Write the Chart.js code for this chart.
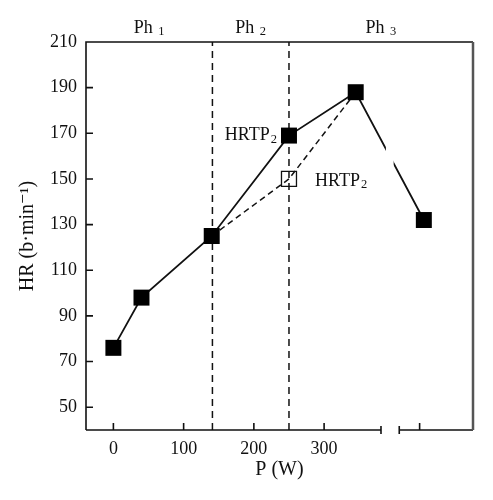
<!DOCTYPE html>
<html lang="en">
<head>
    <meta charset="UTF-8">
    <title>HR vs power</title>
    <script src="https://cdn.jsdelivr.net/npm/chart.js"></script>
    <style>
        body { margin: 0; background: #fff; }
        #wrap { width: 493px; height: 500px; }
    </style>
</head>
<body>

<div id="wrap">
    <canvas id="hrChart" width="493" height="500"></canvas>
</div>

<script>
    // values
    var power = [0, 40, 140, 250, 345, 442];
    var hrMeasured = [76, 98, 125, 169, 188, 132];
    var estPower = [140, 250, 345];
    var hrEstimated = [125, 150, 188];
    var phaseBounds = [141, 250];
    var phaseNames = ['1', '2', '3'];
    var xTicks = [0, 100, 200, 300];
    var yTicks = [50, 70, 90, 110, 130, 150, 170, 190, 210];
    var xMin = -39, xMax = 512, yMin = 40, yMax = 210;
    var breakFrom = 381, breakTo = 407, extraTick = 436; // broken x axis
    var lineGap = [388, 399];

    var serif = "'Liberation Serif', 'DejaVu Serif', serif";

    function drawSub(ctx, main, sub, x, y, align) {
        ctx.font = '18px ' + serif;
        var w1 = ctx.measureText(main).width;
        ctx.font = '12.5px ' + serif;
        var w2 = ctx.measureText(sub).width;
        var total = w1 + 1 + w2;
        var start = x;
        if (align === 'right') start = x - total;
        if (align === 'center') start = x - total / 2;
        ctx.textAlign = 'left';
        ctx.textBaseline = 'middle';
        ctx.font = '18px ' + serif;
        ctx.fillText(main, start, y);
        ctx.font = '12.5px ' + serif;
        ctx.fillText(sub, start + w1 + 1, y + 4);
    }

    var framePlugin = {
        id: 'frame',
        afterDatasetsDraw: function (chart) {
            // gap in the line where the axis is broken
            var ctx = chart.ctx, xs = chart.scales.x, a = chart.chartArea;
            ctx.save();
            ctx.fillStyle = '#fff';
            var g0 = xs.getPixelForValue(lineGap[0]), g1 = xs.getPixelForValue(lineGap[1]);
            ctx.fillRect(g0, a.top + 2, g1 - g0, a.bottom - a.top - 2);
            ctx.restore();
        },
        afterDraw: function (chart) {
            var ctx = chart.ctx, xs = chart.scales.x, ys = chart.scales.y, a = chart.chartArea;
            ctx.save();
            ctx.strokeStyle = '#111';
            ctx.lineWidth = 1.6;
            ctx.beginPath();
            // left and top
            ctx.moveTo(a.left, a.bottom);
            ctx.lineTo(a.left, a.top);
            ctx.lineTo(a.right, a.top);
            // bottom with break
            var b0 = xs.getPixelForValue(breakFrom), b1 = xs.getPixelForValue(breakTo);
            ctx.moveTo(a.left, a.bottom);
            ctx.lineTo(b0, a.bottom);
            ctx.moveTo(b1, a.bottom);
            ctx.lineTo(a.right, a.bottom);
            ctx.moveTo(b0, a.bottom - 4);
            ctx.lineTo(b0, a.bottom + 4);
            ctx.moveTo(b1, a.bottom - 4);
            ctx.lineTo(b1, a.bottom + 4);
            // inward ticks
            xTicks.concat([extraTick]).forEach(function (v) {
                var px = xs.getPixelForValue(v);
                ctx.moveTo(px, a.bottom);
                ctx.lineTo(px, a.bottom - 7);
            });
            yTicks.forEach(function (v) {
                var py = ys.getPixelForValue(v);
                ctx.moveTo(a.left, py);
                ctx.lineTo(a.left + 7, py);
            });
            ctx.stroke();
            // right edge is grey in the figure
            ctx.strokeStyle = '#555';
            ctx.lineWidth = 2.5;
            ctx.beginPath();
            ctx.moveTo(a.right, a.top);
            ctx.lineTo(a.right, a.bottom);
            ctx.stroke();

            // phase labels
            ctx.fillStyle = '#111';
            var bounds = [xMin].concat(phaseBounds).concat([xMax]);
            for (var i = 0; i < phaseNames.length; i++) {
                var cx = (xs.getPixelForValue(bounds[i]) + xs.getPixelForValue(bounds[i + 1])) / 2;
                drawSub(ctx, 'Ph ', phaseNames[i], cx, a.top - 14, 'center');
            }
            // HRTP2 labels
            var px1 = xs.getPixelForValue(power[3]), py1 = ys.getPixelForValue(hrMeasured[3]);
            drawSub(ctx, 'HRTP', '2', px1 - 12, py1, 'right');
            var px2 = xs.getPixelForValue(estPower[1]), py2 = ys.getPixelForValue(hrEstimated[1]);
            drawSub(ctx, 'HRTP', '2', px2 + 26, py2 + 2, 'left');
            ctx.restore();
        }
    };

    var phaseData = [];
    phaseBounds.forEach(function (p) {
        phaseData.push({ x: p, y: yMin }, { x: p, y: yMax }, { x: p, y: null });
    });

    var chart = new Chart(document.getElementById('hrChart').getContext('2d'), {
        type: 'line',
        data: {
            datasets: [{
                label: 'HR',
                data: power.map(function (p, i) { return { x: p, y: hrMeasured[i] }; }),
                borderColor: '#111',
                borderWidth: 1.8,
                pointStyle: 'rect',
                pointRadius: 11.3,
                pointBackgroundColor: '#000',
                pointBorderColor: '#000',
                pointBorderWidth: 0,
                tension: 0
            }, {
                label: 'HRTP2 estimated',
                data: estPower.map(function (p, i) { return { x: p, y: hrEstimated[i] }; }),
                borderColor: '#111',
                borderWidth: 1.5,
                borderDash: [6, 4],
                pointStyle: 'rect',
                pointRadius: [0, 10.6, 0],
                pointBackgroundColor: 'rgba(0,0,0,0)',
                pointBorderColor: '#111',
                pointBorderWidth: 1.3,
                tension: 0
            }, {
                label: 'phases',
                data: phaseData,
                borderColor: '#111',
                borderWidth: 1.5,
                borderDash: [7, 5],
                pointRadius: 0,
                spanGaps: false
            }]
        },
        options: {
            responsive: false,
            animation: false,
            layout: { padding: { top: 42, right: 20, left: 0, bottom: 0 } },
            plugins: { legend: { display: false }, tooltip: { enabled: false } },
            scales: {
                x: {
                    type: 'linear',
                    min: xMin,
                    max: xMax,
                    afterBuildTicks: function (s) { s.ticks = xTicks.map(function (v) { return { value: v }; }); },
                    afterFit: function (s) { s.height = 70; },
                    grid: { display: false, drawTicks: false },
                    border: { display: false },
                    ticks: { color: '#111', padding: 8, maxRotation: 0, font: { family: serif, size: 18 } },
                    title: { display: true, text: 'P (W)', color: '#111', padding: { top: 0, bottom: 18 }, font: { family: serif, size: 20 } }
                },
                y: {
                    min: yMin,
                    max: yMax,
                    afterBuildTicks: function (s) { s.ticks = yTicks.map(function (v) { return { value: v }; }); },
                    afterFit: function (s) { s.width = 86; },
                    grid: { display: false, drawTicks: false },
                    border: { display: false },
                    ticks: { color: '#111', padding: 9, font: { family: serif, size: 18 } },
                    title: { display: true, text: 'HR (b\u00b7min\u207b\u00b9)', color: '#111', padding: { top: 16, bottom: 0 }, font: { family: serif, size: 20 } }
                }
            }
        },
        plugins: [framePlugin]
    });
</script>

</body>
</html>
